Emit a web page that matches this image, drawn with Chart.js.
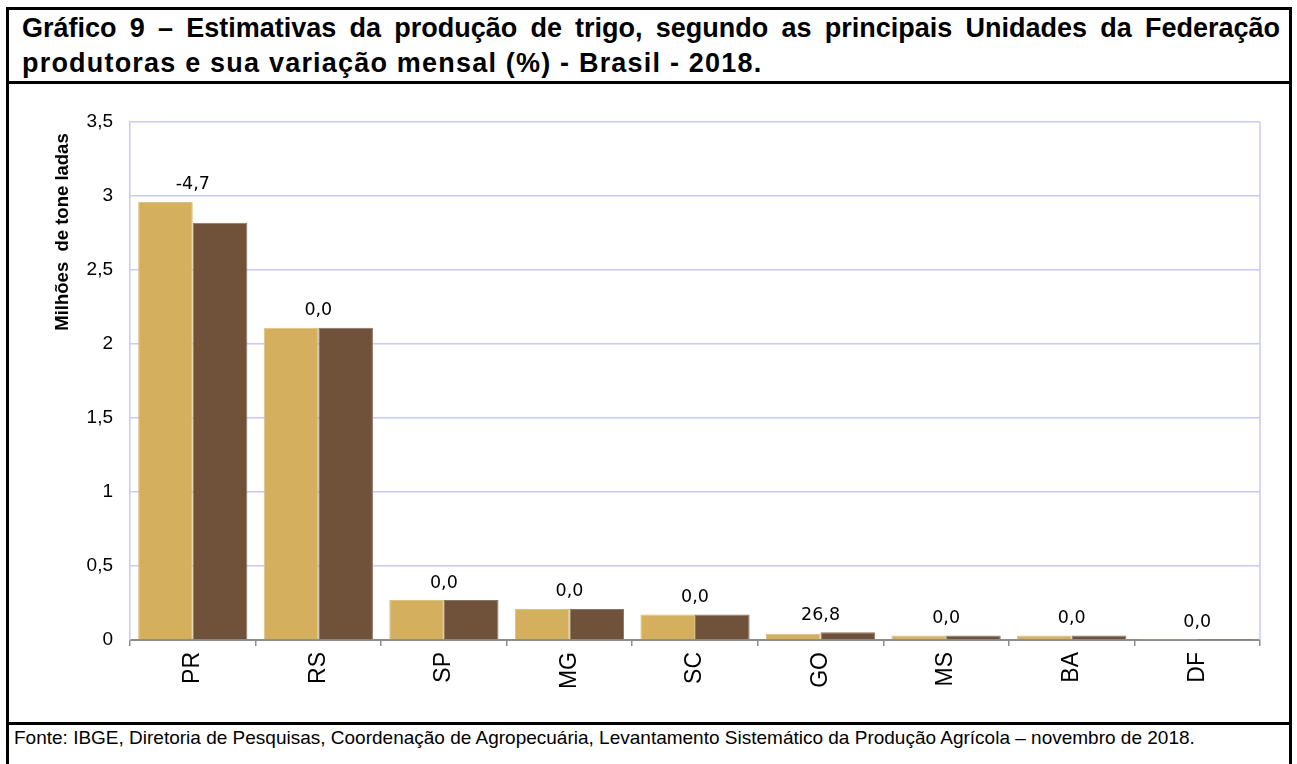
<!DOCTYPE html>
<html>
<head>
<meta charset="utf-8">
<script src="https://cdn.jsdelivr.net/npm/chart.js@4.4.1/dist/chart.umd.min.js"></script>
<style>
  html, body { margin: 0; padding: 0; background: #fff; }
  body { width: 1297px; height: 764px; position: relative; overflow: hidden; font-family: "Liberation Sans", Arial, sans-serif; }
  #frame { position: absolute; left: 6px; top: 7px; width: 1280px; height: 780px; border: 3px solid #000; }
  #title { padding: 1px 9px 0 13px; height: 70px; font-weight: bold; font-size: 27px; line-height: 35px; color: #000; border-bottom: 3px solid #000; }
  #title .l1 { text-align: justify; text-align-last: justify; white-space: nowrap; }
  #title .l2 { letter-spacing: 1.2px; white-space: nowrap; }
  #footer { position: absolute; left: 0; right: 0; top: 712px; border-top: 3px solid #000; padding: 2px 0 0 5px; font-size: 19px; line-height: 22px; color: #000; white-space: nowrap; }
  #wrap { position: absolute; left: 0; top: 0; width: 1297px; height: 764px; }
</style>
</head>
<body>
<div id="frame">
  <div id="title">
    <div class="l1">Gráfico 9 – Estimativas da produção de trigo, segundo as principais Unidades da Federação</div>
    <div class="l2">produtoras e sua variação mensal (%) - Brasil - 2018.</div>
  </div>
  <div id="footer">Fonte: IBGE, Diretoria de Pesquisas, Coordenação de Agropecuária, Levantamento Sistemático da Produção Agrícola – novembro de 2018.</div>
</div>
<div id="wrap"><canvas id="bar-chart" width="1297" height="764"></canvas></div>
<script>
var categories = ["PR", "RS", "SP", "MG", "SC", "GO", "MS", "BA", "DF"];
var outubro = [2.96, 2.11, 0.27, 0.21, 0.172, 0.042, 0.03, 0.03, 0.001];
var novembro = [2.82, 2.11, 0.27, 0.21, 0.172, 0.053, 0.03, 0.03, 0.001];
var variacao = [-4.7, 0.0, 0.0, 0.0, 0.0, 26.8, 0.0, 0.0, 0.0];
var yTicks = [0, 0.5, 1, 1.5, 2, 2.5, 3, 3.5];

function virgula(v, casas) {
  return (casas == null ? String(v) : v.toFixed(casas)).replace(".", ",");
}

// variação mensal above each pair + right border of plot + y title
var extras = {
  id: "extras",
  afterDraw: function (chart) {
    var ctx = chart.ctx;
    var area = chart.chartArea;
    var x = chart.scales.x;
    var y = chart.scales.y;
    ctx.save();
    ctx.strokeStyle = "#c8c8fa";
    ctx.lineWidth = 1.5;
    ctx.beginPath();
    ctx.moveTo(area.right, area.top);
    ctx.lineTo(area.right, area.bottom);
    ctx.stroke();

    ctx.fillStyle = "#000";
    ctx.font = "17.5px 'DejaVu Sans'";
    ctx.textAlign = "center";
    ctx.textBaseline = "middle";
    categories.forEach(function (c, i) {
      var top = Math.max(outubro[i], novembro[i]);
      ctx.fillText(virgula(variacao[i], 1), x.getPixelForValue(i), y.getPixelForValue(top) - 17);
    });

    ctx.translate(63, 232);
    ctx.rotate(-Math.PI / 2);
    ctx.font = "bold 18.5px 'Liberation Sans'";
    ctx.fillText("Milhões  de tone ladas", 0, 0);
    ctx.restore();
  }
};

Chart.defaults.font.family = "'Liberation Sans', Arial, sans-serif";
Chart.defaults.color = "#000";

var config = {
  type: "bar",
  data: {
    labels: categories,
    datasets: [
      {
        label: "outubro",
        data: outubro,
        backgroundColor: "#d4b05e",
        borderColor: "#dcc081",
        borderWidth: 1,
        categoryPercentage: 0.87,
        barPercentage: 1.0,
      },
      {
        label: "novembro",
        data: novembro,
        backgroundColor: "#70523a",
        borderColor: "#8a7462",
        borderWidth: 1,
        categoryPercentage: 0.87,
        barPercentage: 1.0,
      },
    ],
  },
  options: {
    responsive: false,
    animation: false,
    layout: { padding: { top: 122, left: 0, right: 37, bottom: 0 } },
    plugins: {
      legend: { display: false },
      title: { display: false },
      tooltip: { enabled: false },
    },
    scales: {
      x: {
        grid: { offset: true, drawOnChartArea: false, drawTicks: true, tickLength: 6, color: "#8c8c8c", lineWidth: 1.5 },
        border: { color: "#8c8c8c", width: 2 },
        ticks: { minRotation: 90, maxRotation: 90, padding: 6, font: { size: 23 }, color: "#000" },
        afterFit: function (scale) { scale.height = 124; },
      },
      y: {
        min: 0,
        max: 3.5,
        afterBuildTicks: function (scale) {
          scale.ticks = yTicks.map(function (v) { return { value: v }; });
        },
        grid: { color: "#c8c8fa", lineWidth: 1.5, drawTicks: false },
        border: { color: "#c8c8fa", width: 1.5 },
        ticks: {
          padding: 17,
          font: { size: 19 },
          color: "#000",
          callback: function (v) { return virgula(v); },
        },
        afterFit: function (scale) { scale.width = 130; },
      },
    },
  },
  plugins: [extras],
};

var ctx = document.getElementById("bar-chart").getContext("2d");
window.myBar = new Chart(ctx, config);
</script>
</body>
</html>
